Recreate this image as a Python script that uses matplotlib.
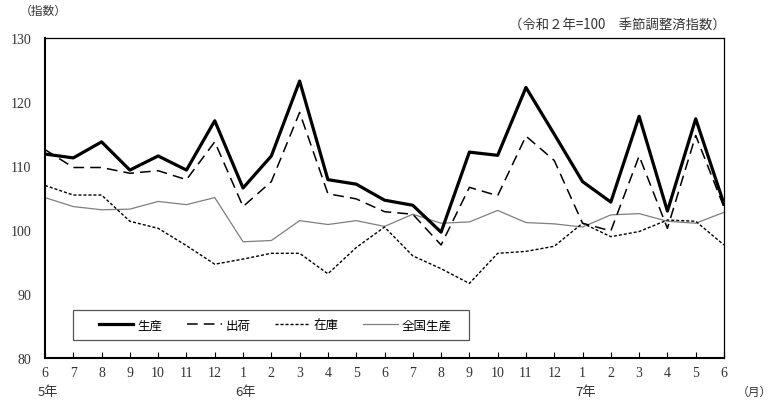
import matplotlib
matplotlib.use("Agg")
import matplotlib.pyplot as plt
from matplotlib.patches import Rectangle

plt.rcParams['font.family'] = ['Noto Sans CJK JP', 'DejaVu Sans']

# ── データ ─────────────────────────────────────────────
months = ["6", "7", "8", "9", "10", "11", "12", "1", "2", "3", "4", "5", "6",
          "7", "8", "9", "10", "11", "12", "1", "2", "3", "4", "5", "6"]
year_labels = {0: "5年", 7: "6年", 19: "7年"}

seisan = [111.8, 111.2, 113.7, 109.3, 111.5, 109.3, 117.0, 106.5, 111.5, 123.2,
          107.8, 107.1, 104.6, 103.8, 99.6, 112.1, 111.6, 122.2, 114.9, 107.5,
          104.3, 117.7, 102.9, 117.3, 104.0]
shukka = [112.5, 109.7, 109.7, 108.8, 109.2, 107.8, 113.7, 103.6, 107.5, 118.3,
          105.6, 104.8, 102.8, 102.4, 97.6, 106.6, 105.3, 114.6, 110.8, 101.0,
          99.8, 111.5, 100.2, 114.7, 103.5]
zaiko = [106.9, 105.4, 105.4, 101.3, 100.2, 97.5, 94.6, 95.4, 96.3, 96.3,
         93.1, 97.2, 100.4, 95.9, 93.9, 91.6, 96.3, 96.6, 97.4, 101.0,
         98.9, 99.7, 101.5, 101.3, 97.6]
zenkoku = [105.0, 103.6, 103.1, 103.2, 104.4, 103.9, 105.0, 98.1, 98.3, 101.4,
           100.8, 101.4, 100.5, 102.4, 101.0, 101.2, 103.0, 101.1, 100.9, 100.4,
           102.3, 102.5, 101.3, 101.0, 102.7]

x = list(range(len(months)))

fig = plt.figure(figsize=(7.71, 4.02), dpi=100)
ax = fig.add_axes([45 / 771, 1 - 358.7 / 402, 679 / 771, 320.2 / 402])

ax.plot(x, seisan, color="black", lw=2.3, label="生産", zorder=5)
ax.plot(x, shukka, color="black", lw=1.1, dashes=(7, 4), label="出荷", zorder=4)
ax.plot(x, zaiko, color="black", lw=1.0, dashes=(2.2, 1.4), label="在庫", zorder=3)
ax.plot(x, zenkoku, color="#7f7f7f", lw=0.9, label="全国生産", zorder=2)

ax.set_xlim(0, len(months) - 1)
ax.set_ylim(80, 130)
ax.set_yticks([80, 90, 100, 110, 120, 130])
ax.set_xticks(x)
ax.set_xticklabels(months, family=["Liberation Serif", "Noto Sans CJK JP"])
for lab in ax.get_yticklabels():
    lab.set_family(["Liberation Serif", "Noto Sans CJK JP"])
ax.tick_params(axis="x", direction="in", length=4, width=0.8, labelsize=10, pad=6)
ax.tick_params(axis="y", length=0, labelsize=10, pad=10, colors="#333333")
ax.tick_params(axis="x", colors="black", labelcolor="#333333")

for s in ax.spines.values():
    s.set_linewidth(0.9)
ax.spines["left"].set_linewidth(1.5)
ax.spines["bottom"].set_linewidth(1.5)

# 年ラベル
for i, t in year_labels.items():
    ax.text(i + 0.1, -0.085, t, transform=ax.get_xaxis_transform(), ha="center", va="top",
            fontsize=9.5, color="#333333")
ax.text(1.045, -0.085, "（月）", transform=ax.transAxes, ha="center", va="top",
        fontsize=8.5, color="#333333")

fig.text(20 / 771, 1 - 11 / 402, "（指数）", ha="left", va="center", fontsize=8.5, color="#333333")
fig.text(726 / 771, 1 - 26 / 402, "（令和２年=100　季節調整済指数）", ha="right", va="center",
         fontsize=9.6, color="#333333")

# 凡例（枠は別に描く）
ax.add_patch(Rectangle((28 / 679, 17.5 / 320.2), 396 / 679, 30.5 / 320.2, transform=ax.transAxes,
                       facecolor="white", edgecolor="#555555", lw=0.9, zorder=6))
leg = ax.legend(loc="center left", bbox_to_anchor=(54 / 679, 32.7 / 320.2), ncol=4,
                frameon=False, fontsize=9, borderpad=0, borderaxespad=0,
                handlelength=2.75, handletextpad=0.3, columnspacing=2.0)
leg.set_zorder(7)

fig.savefig("out.png", dpi=100)
